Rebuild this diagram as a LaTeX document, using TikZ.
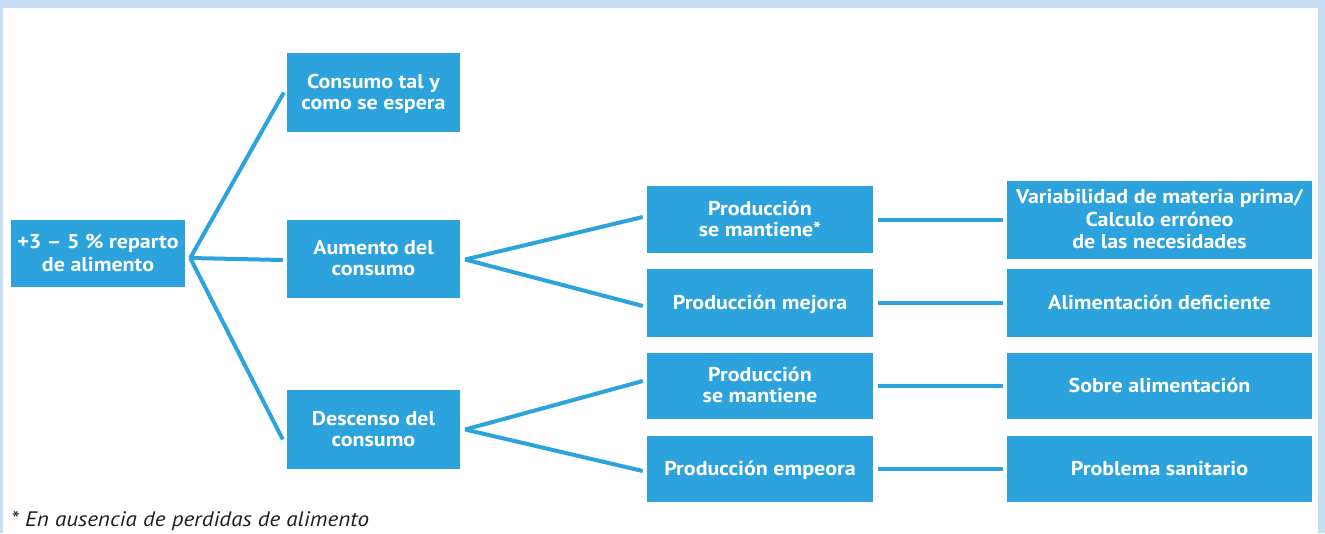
\documentclass[tikz,border=0pt]{standalone}
\usepackage{fontspec}
\setmainfont{PT Sans}[FakeStretch=1.1]
\begin{document}
\begin{tikzpicture}[x=1pt,y=-1pt,
  box/.style={fill=boxblue,text=white,font=\bfseries\fontsize{20}{21}\selectfont,align=center,inner sep=0pt,text depth=2pt,minimum width=173pt,minimum height=#1},
  pbox/.style={box=#1,minimum width=226pt},
  rbox/.style={box=#1,minimum width=305pt},
  link/.style={draw=boxblue,line width=4pt}]
\definecolor{boxblue}{HTML}{2CA3DC}
\definecolor{framebl}{HTML}{C6DEF3}
\definecolor{notegray}{HTML}{231F20}
\useasboundingbox (0,0) rectangle (1325,533);
\fill[framebl] (0,0) rectangle (1325,533);
\fill[white] (3,8) rectangle (1318,533);
% first column
\node[box=67pt,minimum width=174pt,font=\bfseries\fontsize{20}{23}\selectfont] (root) at (98,253.5) {+3 -- 5 \% reparto\\de alimento};
% second column
\node[box=79pt] (c1) at (373.5,92.5) {Consumo tal y\\como se espera};
\node[box=78pt] (c2) at (373.5,259) {Aumento del\\consumo};
\node[box=79pt] (c3) at (373.5,429.5) {Descenso del\\consumo};
% third column
\node[pbox=67pt] (p1) at (760,219.5) {Producción\\se mantiene*};
\node[pbox=68pt] (p2) at (760,303) {Producción mejora};
\node[pbox=66pt] (p3) at (760,386) {Producción\\se mantiene};
\node[pbox=66pt] (p4) at (760,469) {Producción empeora};
% fourth column
\node[rbox=78pt,font=\bfseries\fontsize{20}{22.5}\selectfont] (r1) at (1159.5,220) {Variabilidad de materia prima/\\Calculo erróneo\\de las necesidades};
\node[rbox=68pt] (r2) at (1159.5,303) {Alimentación deficiente};
\node[rbox=66pt] (r3) at (1159.5,386) {Sobre alimentación};
\node[rbox=66pt] (r4) at (1159.5,469) {Problema sanitario};
% connectors
\coordinate (f0) at ([xshift=5pt,yshift=-4.5pt]root.east);
\draw[link] (f0) -- ([xshift=-3pt]c1.west);
\draw[link] (f0) -- ([xshift=-4pt,yshift=-1pt]c2.west);
\draw[link] (f0) -- ([xshift=-4pt,yshift=-10pt]c3.west);
\coordinate (f1) at ([xshift=5pt,yshift=-0.5pt]c2.east);
\draw[link] (f1) -- ([xshift=-4pt,yshift=2.5pt]p1.west);
\draw[link] (f1) -- ([xshift=-4pt,yshift=-3pt]p2.west);
\coordinate (f2) at ([xshift=5pt]c3.east);
\draw[link] (f2) -- ([xshift=-4pt,yshift=5pt]p3.west);
\draw[link] (f2) -- ([xshift=-4pt,yshift=-2pt]p4.west);
\draw[link] ([xshift=5pt,yshift=-0.5pt]p1.east) -- ([xshift=-4pt]r1.west);
\draw[link] ([xshift=5pt]p2.east) -- ([xshift=-4pt]r2.west);
\draw[link] ([xshift=5pt]p3.east) -- ([xshift=-4pt]r3.west);
\draw[link] ([xshift=5pt]p4.east) -- ([xshift=-4pt]r4.west);
% footnote
\node[anchor=base west,inner sep=0pt,text=notegray,font=\itshape\fontsize{21}{22}\selectfont] (note) at (11,526) {* En ausencia de perdidas de alimento};
\end{tikzpicture}
\end{document}
